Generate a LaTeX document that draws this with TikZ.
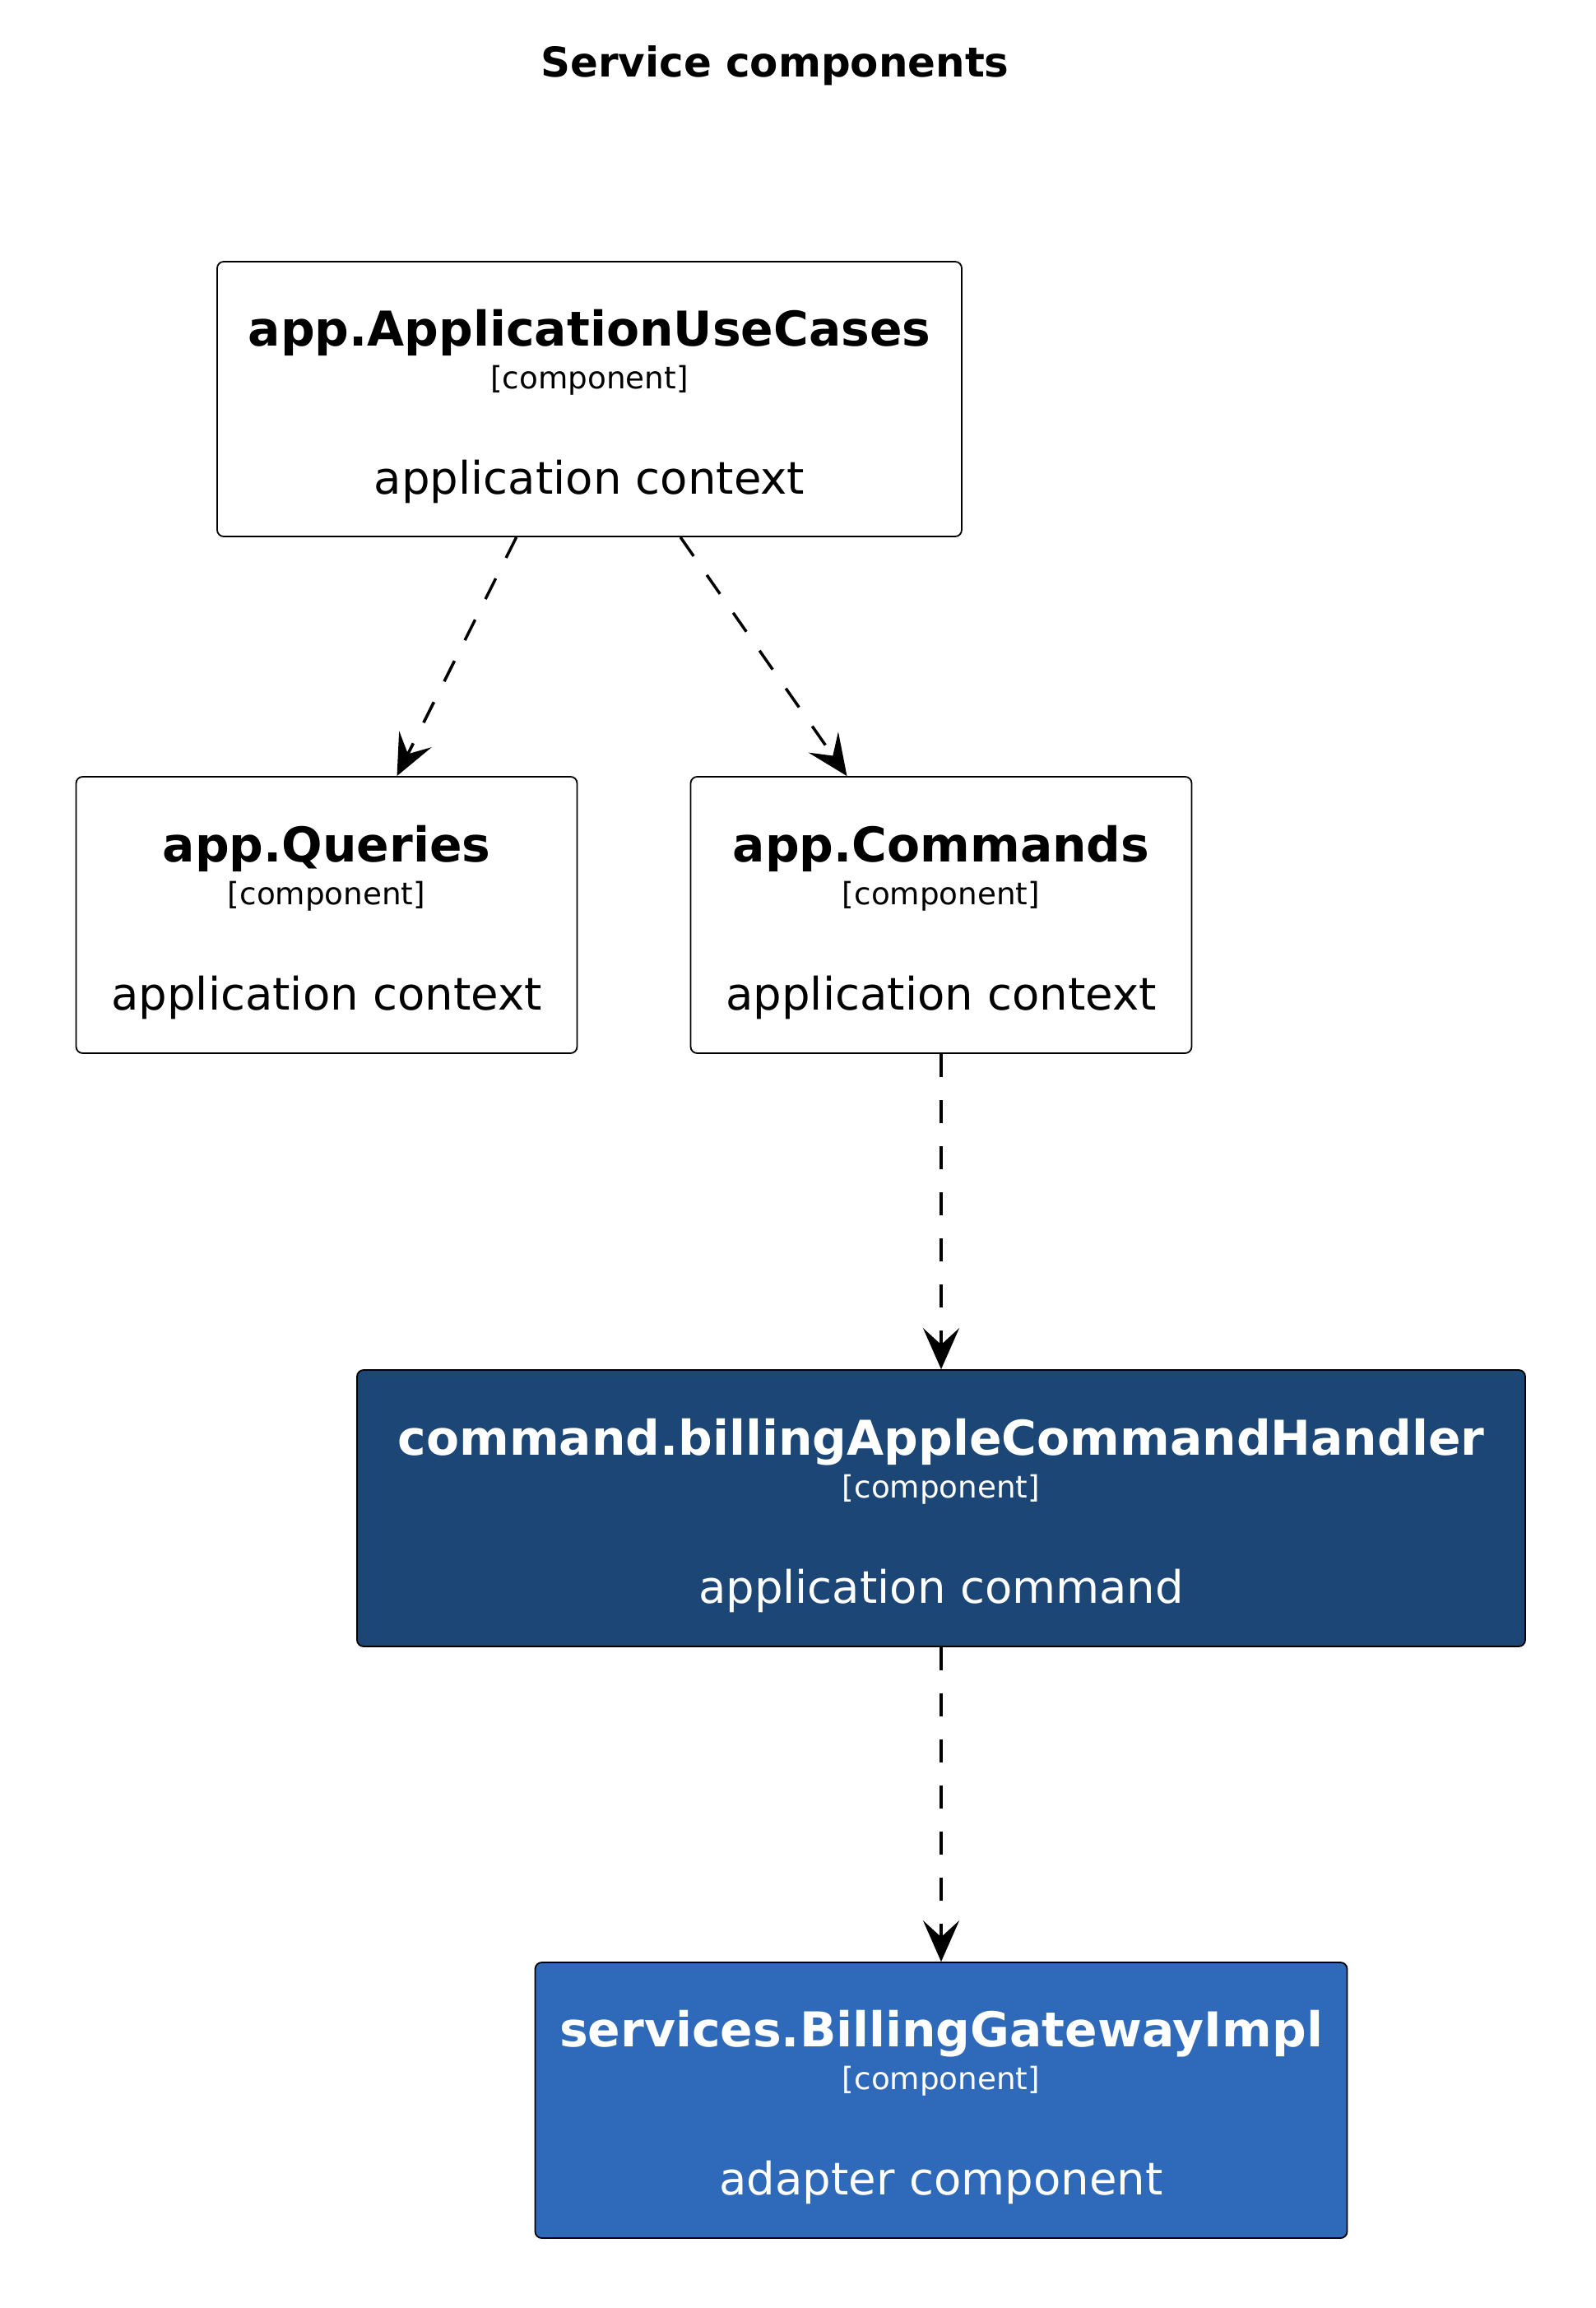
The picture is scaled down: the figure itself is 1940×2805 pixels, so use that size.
\documentclass[tikz,border=0pt]{standalone}
\usepackage{fontspec}
\setmainfont{DejaVu Sans}
\usetikzlibrary{arrows.meta,calc}
\definecolor{handlerblue}{HTML}{1B4675}
\definecolor{adapterblue}{HTML}{2E6AB9}
\newcommand\nmfont{\fontsize{58.3pt}{70pt}\selectfont\bfseries}
\newcommand\stfont{\fontsize{37.3pt}{44pt}\selectfont}
\newcommand\dsfont{\fontsize{54.5pt}{65pt}\selectfont}
\newcommand\ttlfont{\fontsize{49.9pt}{60pt}\selectfont\bfseries}
\tikzset{
  compbox/.style={draw=black, line width=1.8pt, rounded corners=8pt, inner sep=0pt, fill=white},
  txt/.style={anchor=base, inner sep=0pt},
  dep/.style={line width=3.5pt, dash pattern=on 28pt off 28pt, -{Stealth[length=50pt, width=44pt, inset=20pt]}}
}
\begin{document}
\begin{tikzpicture}[x=1pt,y=-1pt]
\useasboundingbox (0,0) rectangle (1940,2805);
% title
\node[txt] (title) at (942,93) {\ttlfont Service components};
% app.ApplicationUseCases
\node[compbox, minimum width=905pt, minimum height=334pt] (uc) at (716.5,485) {};
\node[txt] (ucn) at (716.5,420) {\nmfont app.ApplicationUseCases};
\node[txt] (ucs) at (716.5,472) {\stfont [component]};
\node[txt] (ucd) at (716.5,600) {\dsfont application context};
% app.Queries
\node[compbox, minimum width=609pt, minimum height=336pt] (qr) at (397,1112) {};
\node[txt] (qrn) at (397,1047) {\nmfont app.Queries};
\node[txt] (qrs) at (397,1099) {\stfont [component]};
\node[txt] (qrd) at (397,1227) {\dsfont application context};
% app.Commands
\node[compbox, minimum width=609pt, minimum height=336pt] (cm) at (1144,1112) {};
\node[txt] (cmn) at (1144,1047) {\nmfont app.Commands};
\node[txt] (cms) at (1144,1099) {\stfont [component]};
\node[txt] (cmd) at (1144,1227) {\dsfont application context};
% command.billingAppleCommandHandler
\node[compbox, fill=handlerblue, minimum width=1420pt, minimum height=336pt] (hd) at (1144,1833) {};
\node[txt, text=white] (hdn) at (1144,1768) {\nmfont command.billingAppleCommandHandler};
\node[txt, text=white] (hds) at (1144,1820) {\stfont [component]};
\node[txt, text=white] (hdd) at (1144,1948) {\dsfont application command};
% services.BillingGatewayImpl
\node[compbox, fill=adapterblue, minimum width=987pt, minimum height=335pt] (bg) at (1144,2552.5) {};
\node[txt, text=white] (bgn) at (1144,2487) {\nmfont services.BillingGatewayImpl};
\node[txt, text=white] (bgs) at (1144,2539) {\stfont [component]};
\node[txt, text=white] (bgd) at (1144,2667) {\dsfont adapter component};
% connectors
\draw[dep] ($(uc.south west)!0.402!(uc.south east)$) -- ($(qr.north west)!0.640!(qr.north east)$);
\draw[dep] ($(uc.south west)!0.622!(uc.south east)$) -- ($(cm.north west)!0.3125!(cm.north east)$);
\draw[dep] (cm.south) -- (hd.north);
\draw[dep] (hd.south) -- (bg.north);
\end{tikzpicture}
\end{document}
